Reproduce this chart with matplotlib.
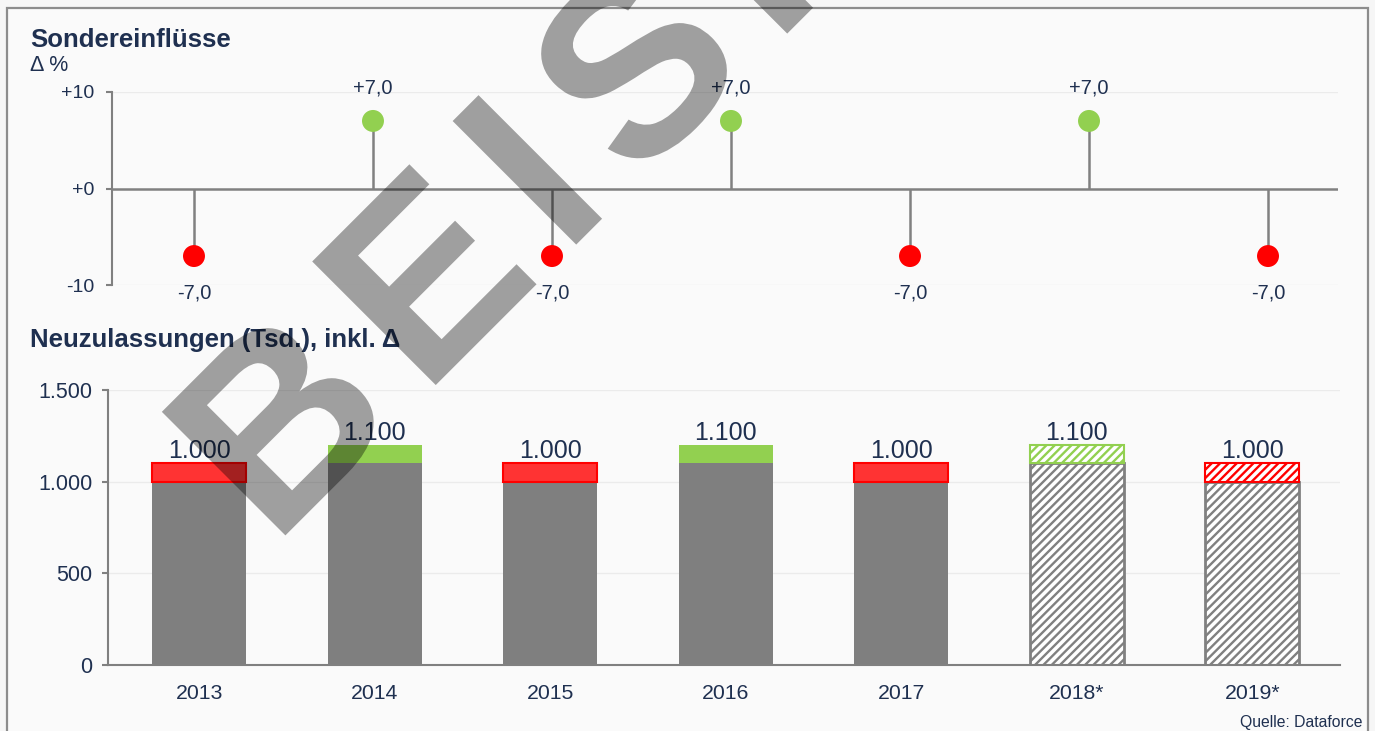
import numpy as np
import matplotlib
matplotlib.use("Agg")
import matplotlib.pyplot as plt
from matplotlib.patches import Rectangle, PathPatch
from matplotlib.textpath import TextPath
from matplotlib.font_manager import FontProperties
from matplotlib.path import Path
from matplotlib.transforms import Affine2D

plt.rcParams['font.family'] = ['Liberation Sans', 'DejaVu Sans']
plt.rcParams['hatch.linewidth'] = 1.7

# data
years = ['2013', '2014', '2015', '2016', '2017', '2018*', '2019*']
change = [-7.0, 7.0, -7.0, 7.0, -7.0, 7.0, -7.0]      # Sondereinflüsse, Δ %
base = [1000, 1100, 1000, 1100, 1000, 1100, 1000]    # Neuzulassungen (Tsd.)
delta = [100, 100, 100, 100, 100, 100, 100]          # Δ on top of bar
forecast = [False, False, False, False, False, True, True]

navy = '#1f3050'
grey = '#7f7f7f'
axis_grey = '#808080'
green = '#92d050'
red = '#ff0000'
red_fill = '#ff3333'

W, H = 1375, 731
fig = plt.figure(figsize=(W / 100, H / 100), dpi=100, facecolor='#f6f6f6')

# frame
fig.add_artist(Rectangle((7 / W, -0.05), 1361 / W, 1.05 - 8 / H, transform=fig.transFigure,
                         facecolor='#fafafa', edgecolor='#8c8c8c', lw=1.6, zorder=0))

x = np.arange(len(years))


def de_num(v):
    return f"{v:,.0f}".replace(",", ".")


# ---- top: Sondereinflüsse ----
ax1 = fig.add_axes([112 / W, 1 - 285 / H, 1226 / W, 193 / H])
ax1.set_facecolor('none')
ax1.set_xlim(-0.458, 6.391)
ax1.set_ylim(-10, 10)
for v in (-10, 10):
    ax1.axhline(v, color='#ebebeb', lw=1, zorder=0)
ax1.axhline(0, color=axis_grey, lw=1.8, zorder=1)
ax1.vlines(x, 0, change, color=axis_grey, lw=1.8, zorder=2)
cols = [green if c > 0 else red for c in change]
ax1.scatter(x, change, s=250, c=cols, linewidths=0, zorder=3)
for i, c in enumerate(change):
    lab = f"{c:+.1f}".replace(".", ",")
    off = 19.7 if c > 0 else -30.7
    ax1.annotate(lab, (i, c), xytext=(0, off), textcoords='offset points',
                 ha='center', va='baseline', fontsize=14.5, color=navy)
for s in ('top', 'right', 'bottom'):
    ax1.spines[s].set_visible(False)
ax1.spines['left'].set_color(axis_grey)
ax1.spines['left'].set_linewidth(1.5)
ax1.set_xticks([])
ax1.set_yticks([-10, 0, 10])
ax1.set_yticklabels(['-10', '+0', '+10'])
ax1.tick_params(axis='y', length=4, width=1.5, color=axis_grey, labelsize=14,
                labelcolor=navy, pad=9)

# ---- bottom: Neuzulassungen ----
ax2 = fig.add_axes([108 / W, 1 - 665 / H, 1232 / W, 275 / H])
ax2.set_facecolor('none')
ax2.set_xlim(-0.521, 6.499)
ax2.set_ylim(0, 1500)
ax2.set_axisbelow(True)
ax2.yaxis.grid(True, color='#ebebeb', lw=1)
bw = 0.536
for i in range(len(years)):
    col = green if change[i] > 0 else red
    if forecast[i]:
        ax2.bar(i, base[i], bw, facecolor='white', edgecolor=axis_grey, hatch='////', lw=2)
        ax2.bar(i, delta[i], bw, bottom=base[i], facecolor='white', edgecolor=col,
                hatch='////', lw=1.5)
    else:
        ax2.bar(i, base[i], bw, color=grey, lw=0)
        if change[i] > 0:
            ax2.bar(i, delta[i], bw, bottom=base[i], color=green, lw=0)
        else:
            ax2.bar(i, delta[i], bw, bottom=base[i], facecolor=red_fill, edgecolor=red, lw=1.5)
    ax2.annotate(de_num(base[i]), (i, base[i] + delta[i]), xytext=(0, 3.5),
                 textcoords='offset points', ha='center', va='baseline',
                 fontsize=18, color=navy)
for s in ('top', 'right'):
    ax2.spines[s].set_visible(False)
for s in ('left', 'bottom'):
    ax2.spines[s].set_color(axis_grey)
    ax2.spines[s].set_linewidth(1.5)
ax2.set_yticks([0, 500, 1000, 1500])
ax2.set_yticklabels([de_num(v) for v in [0, 500, 1000, 1500]])
ax2.set_xticks(x)
ax2.set_xticklabels(years)
ax2.tick_params(axis='y', length=4, width=1.5, color=axis_grey, labelsize=15.5,
                labelcolor=navy, pad=7)
ax2.tick_params(axis='x', length=0, labelsize=15.3, labelcolor=navy, pad=14)

# titles
fig.text(30 / W, 1 - 47 / H, 'Sondereinflüsse', fontsize=18.5, fontweight='bold',
         color=navy, va='baseline')
fig.text(30 / W, 1 - 71 / H, 'Δ %', fontsize=15.5, color=navy, va='baseline')
fig.text(30 / W, 1 - 347 / H, 'Neuzulassungen (Tsd.), inkl. Δ', fontsize=18.5,
         fontweight='bold', color=navy, va='baseline')
fig.text(1363 / W, 1 - 727 / H, 'Quelle: Dataforce', fontsize=11.3, color=navy,
         ha='right', va='baseline')

# watermark
wm_prop = FontProperties(family='Liberation Sans', weight='bold')
word = 'BEISPIEL'
size = 254
gap = 0.115 * size
parts = []
for k, ch in enumerate(word):
    shift = (TextPath((0, 0), word[:k + 1], size=size, prop=wm_prop).get_extents().x1
             - TextPath((0, 0), ch, size=size, prop=wm_prop).get_extents().x1 + k * gap)
    parts.append(TextPath((shift, 0), ch, size=size, prop=wm_prop))
path = Path.make_compound_path(*parts)
lsb = TextPath((0, 0), 'B', size=size, prop=wm_prop).get_extents().x0
tr = (Affine2D().translate(-lsb, 0).rotate_deg(45)
      .translate(285.4, H - 535.4).scale(1 / 100) + fig.dpi_scale_trans)
fig.add_artist(PathPatch(path, transform=tr, facecolor='black', alpha=0.36, lw=0, zorder=10))

fig.savefig('out.png', dpi=100, facecolor=fig.get_facecolor())
